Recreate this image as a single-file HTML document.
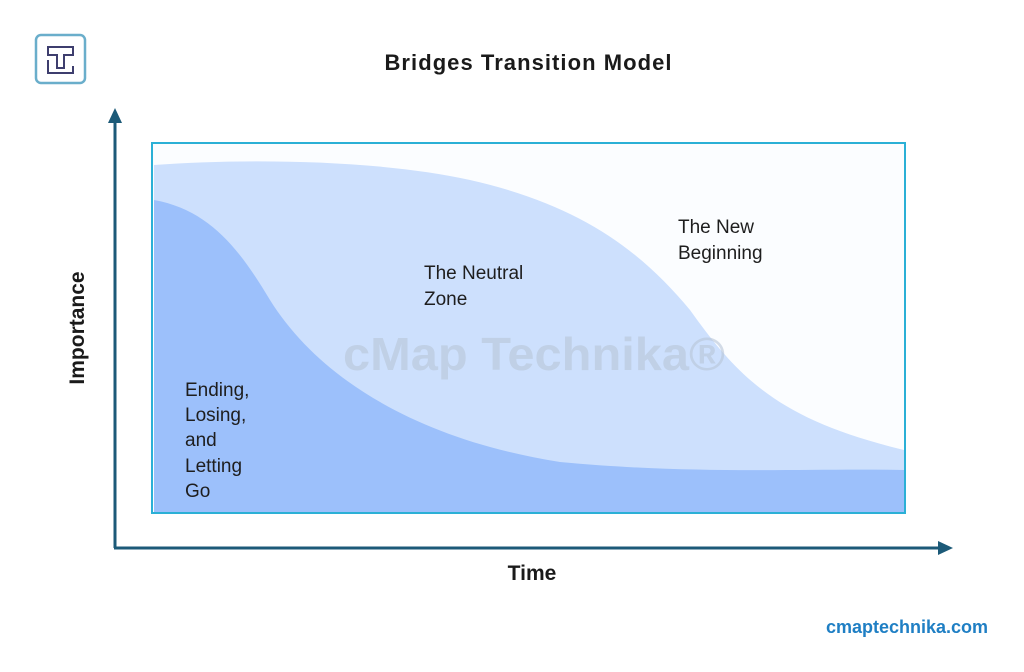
<!DOCTYPE html>
<html><head><style>
body{margin:0;background:#fff;width:1024px;height:667px;overflow:hidden;font-family:"Liberation Sans",sans-serif;}
</style></head><body>
<svg width="1024" height="667" viewBox="0 0 1024 667" xmlns="http://www.w3.org/2000/svg">
<rect x="36" y="35" width="49" height="48" rx="5" fill="#fff" stroke="#6aaecb" stroke-width="2.5"/>
<path d="M48 47 H73 V55 H64 V68 H57 V55 H48 Z" fill="none" stroke="#3e3e6e" stroke-width="2"/>
<path d="M48 60 V73 H73 V66" fill="none" stroke="#3e3e6e" stroke-width="2"/>
<text x="528" y="70" text-anchor="middle" font-size="22" font-weight="bold" fill="#1a1a1a" textLength="287" lengthAdjust="spacing">Bridges Transition Model</text>
<rect x="152" y="143" width="753" height="370" fill="#fbfdff" stroke="#2bb0d6" stroke-width="2"/>
<path d="M154 165 C250 158 380 160 470 180 C580 205 640 250 690 310 C740 380 780 420 904 450 L904 512 L154 512 Z" fill="#cde0fd"/>
<path d="M154 200 C210 210 240 250 270 300 C320 380 420 440 560 462 C700 475 800 468 904 470 L904 512 L154 512 Z" fill="#9cc0fb"/>
<text x="534" y="370" text-anchor="middle" font-size="46" font-weight="bold" fill="#b8c6d8" opacity="0.6" textLength="382" lengthAdjust="spacingAndGlyphs">cMap Technika®</text>
<g font-size="19" fill="#1e1e1e">
<text x="678" y="233">The New</text><text x="678" y="259">Beginning</text>
<text x="424" y="279">The Neutral</text><text x="424" y="305">Zone</text>
<text x="185" y="396">Ending,</text><text x="185" y="421">Losing,</text><text x="185" y="446">and</text><text x="185" y="472">Letting</text><text x="185" y="497">Go</text>
</g>
<line x1="115" y1="120" x2="115" y2="548" stroke="#1c5a78" stroke-width="3"/>
<polygon points="115,108 108,123 122,123" fill="#1c5a78"/>
<line x1="114" y1="548" x2="940" y2="548" stroke="#1c5a78" stroke-width="3"/>
<polygon points="953,548 938,541 938,555" fill="#1c5a78"/>
<text x="532" y="580" text-anchor="middle" font-size="21" font-weight="bold" fill="#1a1a1a">Time</text>
<text transform="translate(84,328) rotate(-90)" text-anchor="middle" font-size="21" font-weight="bold" fill="#1a1a1a">Importance</text>
<text x="988" y="633" text-anchor="end" font-size="18" font-weight="bold" fill="#1f7fc4">cmaptechnika.com</text>
</svg>
</body></html>
